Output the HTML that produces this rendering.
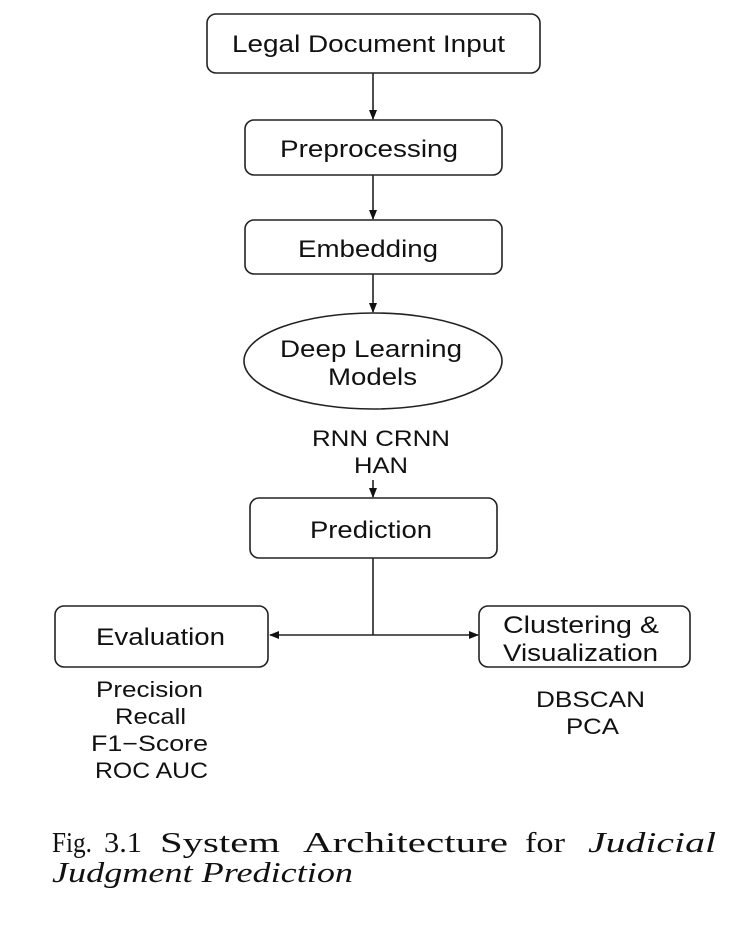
<!DOCTYPE html>
<html><head><meta charset="utf-8"><style>
body{margin:0;background:#fff;width:746px;height:926px;overflow:hidden}
svg{position:absolute;left:0;top:0}
</style></head><body>
<svg width="746" height="926" viewBox="0 0 746 926" font-family="Liberation Sans, sans-serif" fill="#111">
<defs><marker id="a" markerWidth="10" markerHeight="10" refX="9" refY="5" orient="auto" markerUnits="userSpaceOnUse"><path d="M0,1 L10,5 L0,9 Z" fill="#111"/></marker></defs>
<g fill="none" stroke="#222" stroke-width="1.6">
<rect x="207" y="14" width="333" height="59" rx="9"/>
<rect x="245" y="120" width="257" height="55" rx="9"/>
<rect x="245" y="220" width="257" height="54" rx="9"/>
<ellipse cx="373" cy="361" rx="129" ry="48"/>
<rect x="250" y="498" width="247" height="60" rx="9"/>
<rect x="55" y="606" width="213" height="61" rx="9"/>
<rect x="479" y="606" width="211" height="61" rx="9"/>
<line x1="373" y1="73" x2="373" y2="119" marker-end="url(#a)"/>
<line x1="373" y1="175" x2="373" y2="219" marker-end="url(#a)"/>
<line x1="373" y1="274" x2="373" y2="312" marker-end="url(#a)"/>
<line x1="373" y1="480" x2="373" y2="497" marker-end="url(#a)"/>
<line x1="373" y1="558" x2="373" y2="635"/>
<line x1="373" y1="635" x2="270" y2="635" marker-end="url(#a)"/>
<line x1="373" y1="635" x2="478" y2="635" marker-end="url(#a)"/>
</g>
<g font-size="24">
<text x="232" y="52" textLength="273" lengthAdjust="spacingAndGlyphs">Legal Document Input</text>
<text x="280" y="157" textLength="178" lengthAdjust="spacingAndGlyphs">Preprocessing</text>
<text x="298" y="257" textLength="140" lengthAdjust="spacingAndGlyphs">Embedding</text>
<text x="280" y="357" textLength="182" lengthAdjust="spacingAndGlyphs">Deep Learning</text>
<text x="328" y="385" textLength="89" lengthAdjust="spacingAndGlyphs">Models</text>
<text x="310" y="538" textLength="122" lengthAdjust="spacingAndGlyphs">Prediction</text>
<text x="96" y="645" textLength="129" lengthAdjust="spacingAndGlyphs">Evaluation</text>
<text x="503" y="633" textLength="156" lengthAdjust="spacingAndGlyphs">Clustering &amp;</text>
<text x="503" y="661" textLength="155" lengthAdjust="spacingAndGlyphs">Visualization</text>
</g>
<g font-size="22">
<text x="312" y="446" textLength="138" lengthAdjust="spacingAndGlyphs">RNN CRNN</text>
<text x="354" y="473" textLength="54" lengthAdjust="spacingAndGlyphs">HAN</text>
<text x="96" y="697" textLength="107" lengthAdjust="spacingAndGlyphs">Precision</text>
<text x="115" y="724" textLength="71" lengthAdjust="spacingAndGlyphs">Recall</text>
<text x="91" y="751" textLength="117" lengthAdjust="spacingAndGlyphs">F1−Score</text>
<text x="95" y="778" textLength="113" lengthAdjust="spacingAndGlyphs">ROC AUC</text>
<text x="536" y="707" textLength="109" lengthAdjust="spacingAndGlyphs">DBSCAN</text>
<text x="566" y="734" textLength="53" lengthAdjust="spacingAndGlyphs">PCA</text>
</g>
<g font-family="Liberation Serif, serif" font-size="28">
<text x="52" y="852" textLength="40" lengthAdjust="spacingAndGlyphs">Fig.</text>
<text x="104" y="852" textLength="38" lengthAdjust="spacingAndGlyphs">3.1</text>
<text x="160" y="852" textLength="120" lengthAdjust="spacingAndGlyphs">System</text>
<text x="303" y="852" textLength="205" lengthAdjust="spacingAndGlyphs">Architecture</text>
<text x="525" y="852" textLength="40" lengthAdjust="spacingAndGlyphs">for</text>
<text x="588" y="852" font-style="italic" textLength="128" lengthAdjust="spacingAndGlyphs">Judicial</text>
<text x="52" y="882" font-style="italic" textLength="301" lengthAdjust="spacingAndGlyphs">Judgment Prediction</text>
</g>
</svg>
</body></html>
